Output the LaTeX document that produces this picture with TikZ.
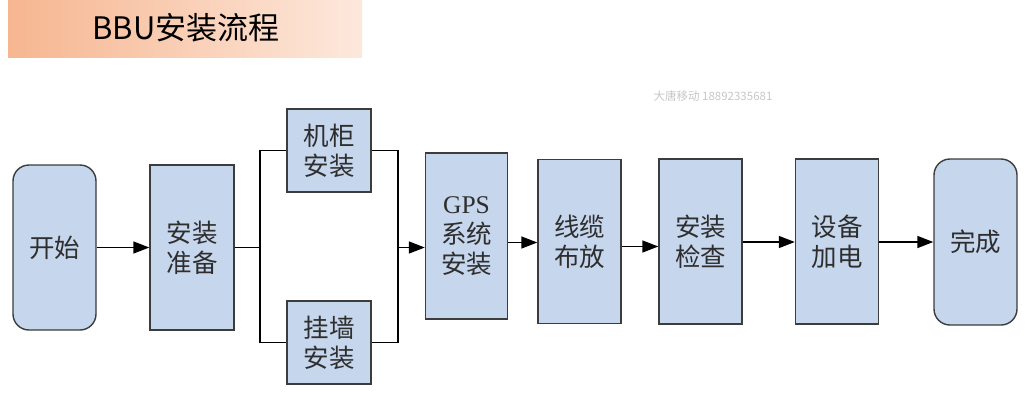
\documentclass[tikz,border=0pt]{standalone}
\usepackage{fontspec}
\setmainfont{Liberation Serif}
\newfontfamily\cjk{Noto Sans CJK SC}
\usetikzlibrary{arrows.meta}
\definecolor{boxfill}{HTML}{C6D6EC}
\definecolor{boxline}{HTML}{3C3C3C}
\definecolor{txt}{HTML}{2E2E2E}
\definecolor{bannerL}{HTML}{F6B690}
\definecolor{bannerR}{HTML}{FDE8DC}
\tikzset{
  box/.style={draw=boxline, fill=boxfill, line width=1.4pt, inner sep=0pt, align=center,
    text=txt, font=\cjk\fontsize{25.5}{30}\selectfont},
  rbox/.style={box, rounded corners=16pt},
  link/.style={draw=black, line width=1.5pt},
  arr/.style={link, -{Triangle[length=16pt, width=12pt]}},
}
\begin{document}
\begin{tikzpicture}[x=1pt, y=-1pt]
\useasboundingbox (0,0) rectangle (1026,400);
\fill[white] (0,0) rectangle (1026,400);
% banner
\shade[left color=bannerL, right color=bannerR] (8,0) rectangle (362,57);
\node[font=\cjk\fontsize{31}{33}\selectfont, text=black, inner sep=0pt] (title) at (186,28) {BBU安装流程};
% watermark
\node[font=\cjk\fontsize{11.5}{13}\selectfont, text=black!22, inner sep=0pt] (wm) at (713,96) {大唐移动 18892335681};
% nodes
\node[rbox, minimum width=83pt, minimum height=165pt] (start) at (54.5,247.5) {开始};
\node[box, minimum width=84pt, minimum height=165pt] (prep) at (192,247.5) {安装\\准备};
\node[box, minimum width=84pt, minimum height=83pt] (cab) at (329,150.5) {机柜\\安装};
\node[box, minimum width=84pt, minimum height=83pt] (wall) at (329,342.5) {挂墙\\安装};
\node[box, minimum width=82pt, minimum height=166pt] (gps) at (466.5,236) {{\fontspec{Liberation Serif}GPS}\\系统\\安装};
\node[box, minimum width=83pt, minimum height=164pt] (cable) at (579.5,241.5) {线缆\\布放};
\node[box, minimum width=83pt, minimum height=165pt] (check) at (700.5,241.5) {安装\\检查};
\node[box, minimum width=83pt, minimum height=165pt] (power) at (837,241.5) {设备\\加电};
\node[rbox, minimum width=83pt, minimum height=166pt] (done) at (975.5,242) {完成};
% junctions
\coordinate (jl) at (260,247.5);
\coordinate (jr) at (398,247.5);
% connectors
\draw[arr] (start) -- (prep);
\draw[link] (prep.east |- jl) -- (jl);
\draw[link] (cab.west) -| (jl);
\draw[link] (wall.west) -| (jl);
\draw[link] (cab.east) -| (jr);
\draw[link] (wall.east) -| (jr);
\draw[arr] (jr) -- (gps.west |- jr);
\draw[arr] (gps.east |- 0,242.5) -- (cable.west |- 0,242.5);
\draw[arr] (cable.east |- 0,246.5) -- (check.west |- 0,246.5);
\draw[arr] (check.east |- 0,242) -- (power.west |- 0,242);
\draw[arr] (power.east |- 0,242) -- (done.west |- 0,242);
\end{tikzpicture}
\end{document}
